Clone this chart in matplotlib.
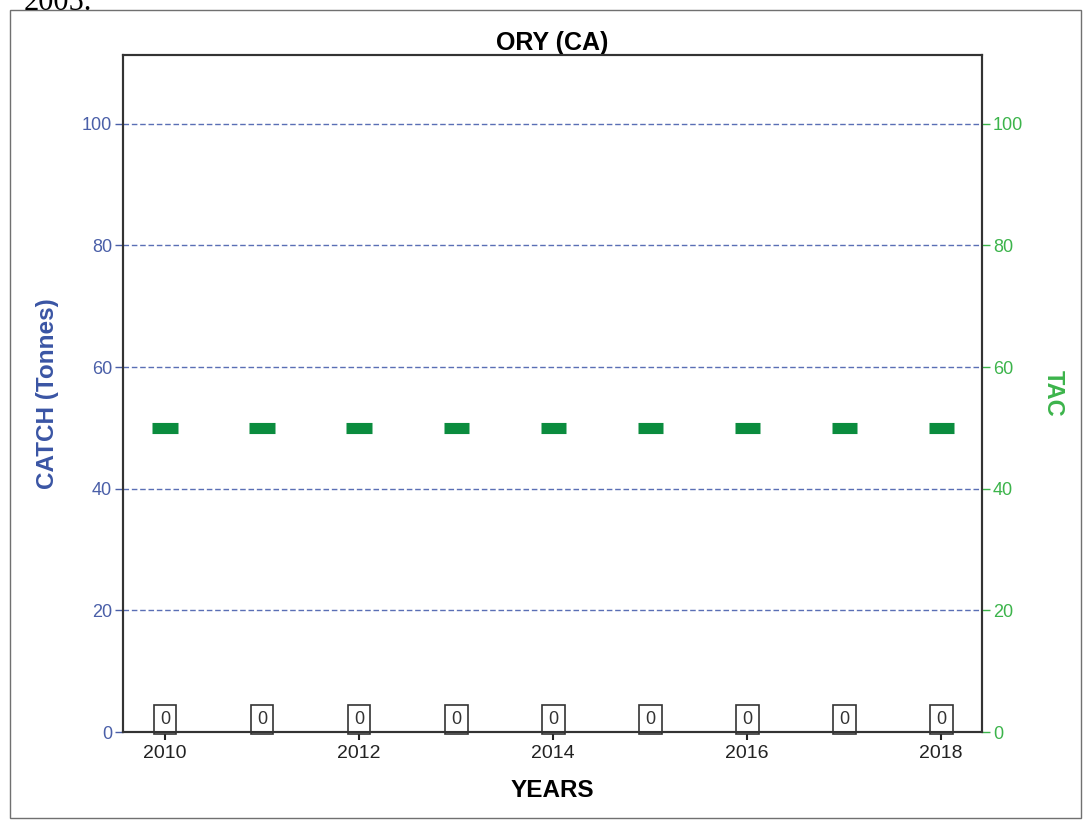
import matplotlib.pyplot as plt
import matplotlib.patches as mpatches
import numpy as np

plt.rcParams['font.family'] = ['Liberation Sans', 'DejaVu Sans']

years = [2010, 2011, 2012, 2013, 2014, 2015, 2016, 2017, 2018]
catch = [0, 0, 0, 0, 0, 0, 0, 0, 0]
tac = [50, 50, 50, 50, 50, 50, 50, 50, 50]
yticks = [0, 20, 40, 60, 80, 100]
xticks = [2010, 2012, 2014, 2016, 2018]

blue = '#4a5fa8'
green = '#3cb44b'

fig = plt.figure(figsize=(10.84, 8.21), dpi=100)
# document frame and cut-off caption above it
fig.patches.append(mpatches.Rectangle((0.009, 0.004), 0.988, 0.984, transform=fig.transFigure,
                                      fill=False, ec='#707070', lw=1))
fig.text(0.022, 0.997, '2005.', family='Liberation Serif', fontsize=22, va='center')

ax = fig.add_axes([0.1135, 0.1084, 0.7924, 0.8246])
ax2 = ax.twinx()

for y in yticks[1:]:
    ax.axhline(y, color='#5a6fb5', ls=(0, (4, 2)), lw=1, zorder=0)

x = np.array(years)
ax.bar(x, catch, width=0.2, color='white', edgecolor='black', lw=2)
for xi, v in zip(x, catch):
    ax.annotate(str(v), (xi, v), xytext=(0, 3), textcoords='offset points',
                ha='center', va='bottom', fontsize=13, color='#333333',
                bbox=dict(boxstyle='square,pad=0.35', fc='white', ec='#333333', lw=1.2))

ax2.hlines(tac, x - 0.13, x + 0.13, color='#0b8c3e', lw=8)

ax.set_xlim(2009.567, 2018.42)
ax.set_ylim(0, 111.3)
ax2.set_ylim(0, 111.3)
ax.set_xticks(xticks)
ax.set_yticks(yticks)
ax2.set_yticks(yticks)

ax.tick_params(axis='x', labelsize=14, colors='#222222', length=6, width=1.5, direction='out')
ax.tick_params(axis='y', labelsize=13, colors=blue, length=6, width=1, direction='out', pad=2)
ax2.tick_params(axis='y', labelsize=13, colors=green, length=6, width=1, direction='out', pad=2)

for a in (ax, ax2):
    for s in a.spines.values():
        s.set_color('#333333')
        s.set_linewidth(1.5)

ax.set_title('ORY (CA)', fontsize=18, fontweight='bold', pad=3)
ax.set_xlabel('YEARS', fontsize=17.5, fontweight='bold', labelpad=12)
ax.set_ylabel('CATCH (Tonnes)', fontsize=17.5, fontweight='bold', color='#3a55a4', labelpad=16)
ax2.set_ylabel('TAC', fontsize=17, fontweight='bold', color=green, rotation=270, labelpad=30)

plt.savefig('out.png', dpi=100)
